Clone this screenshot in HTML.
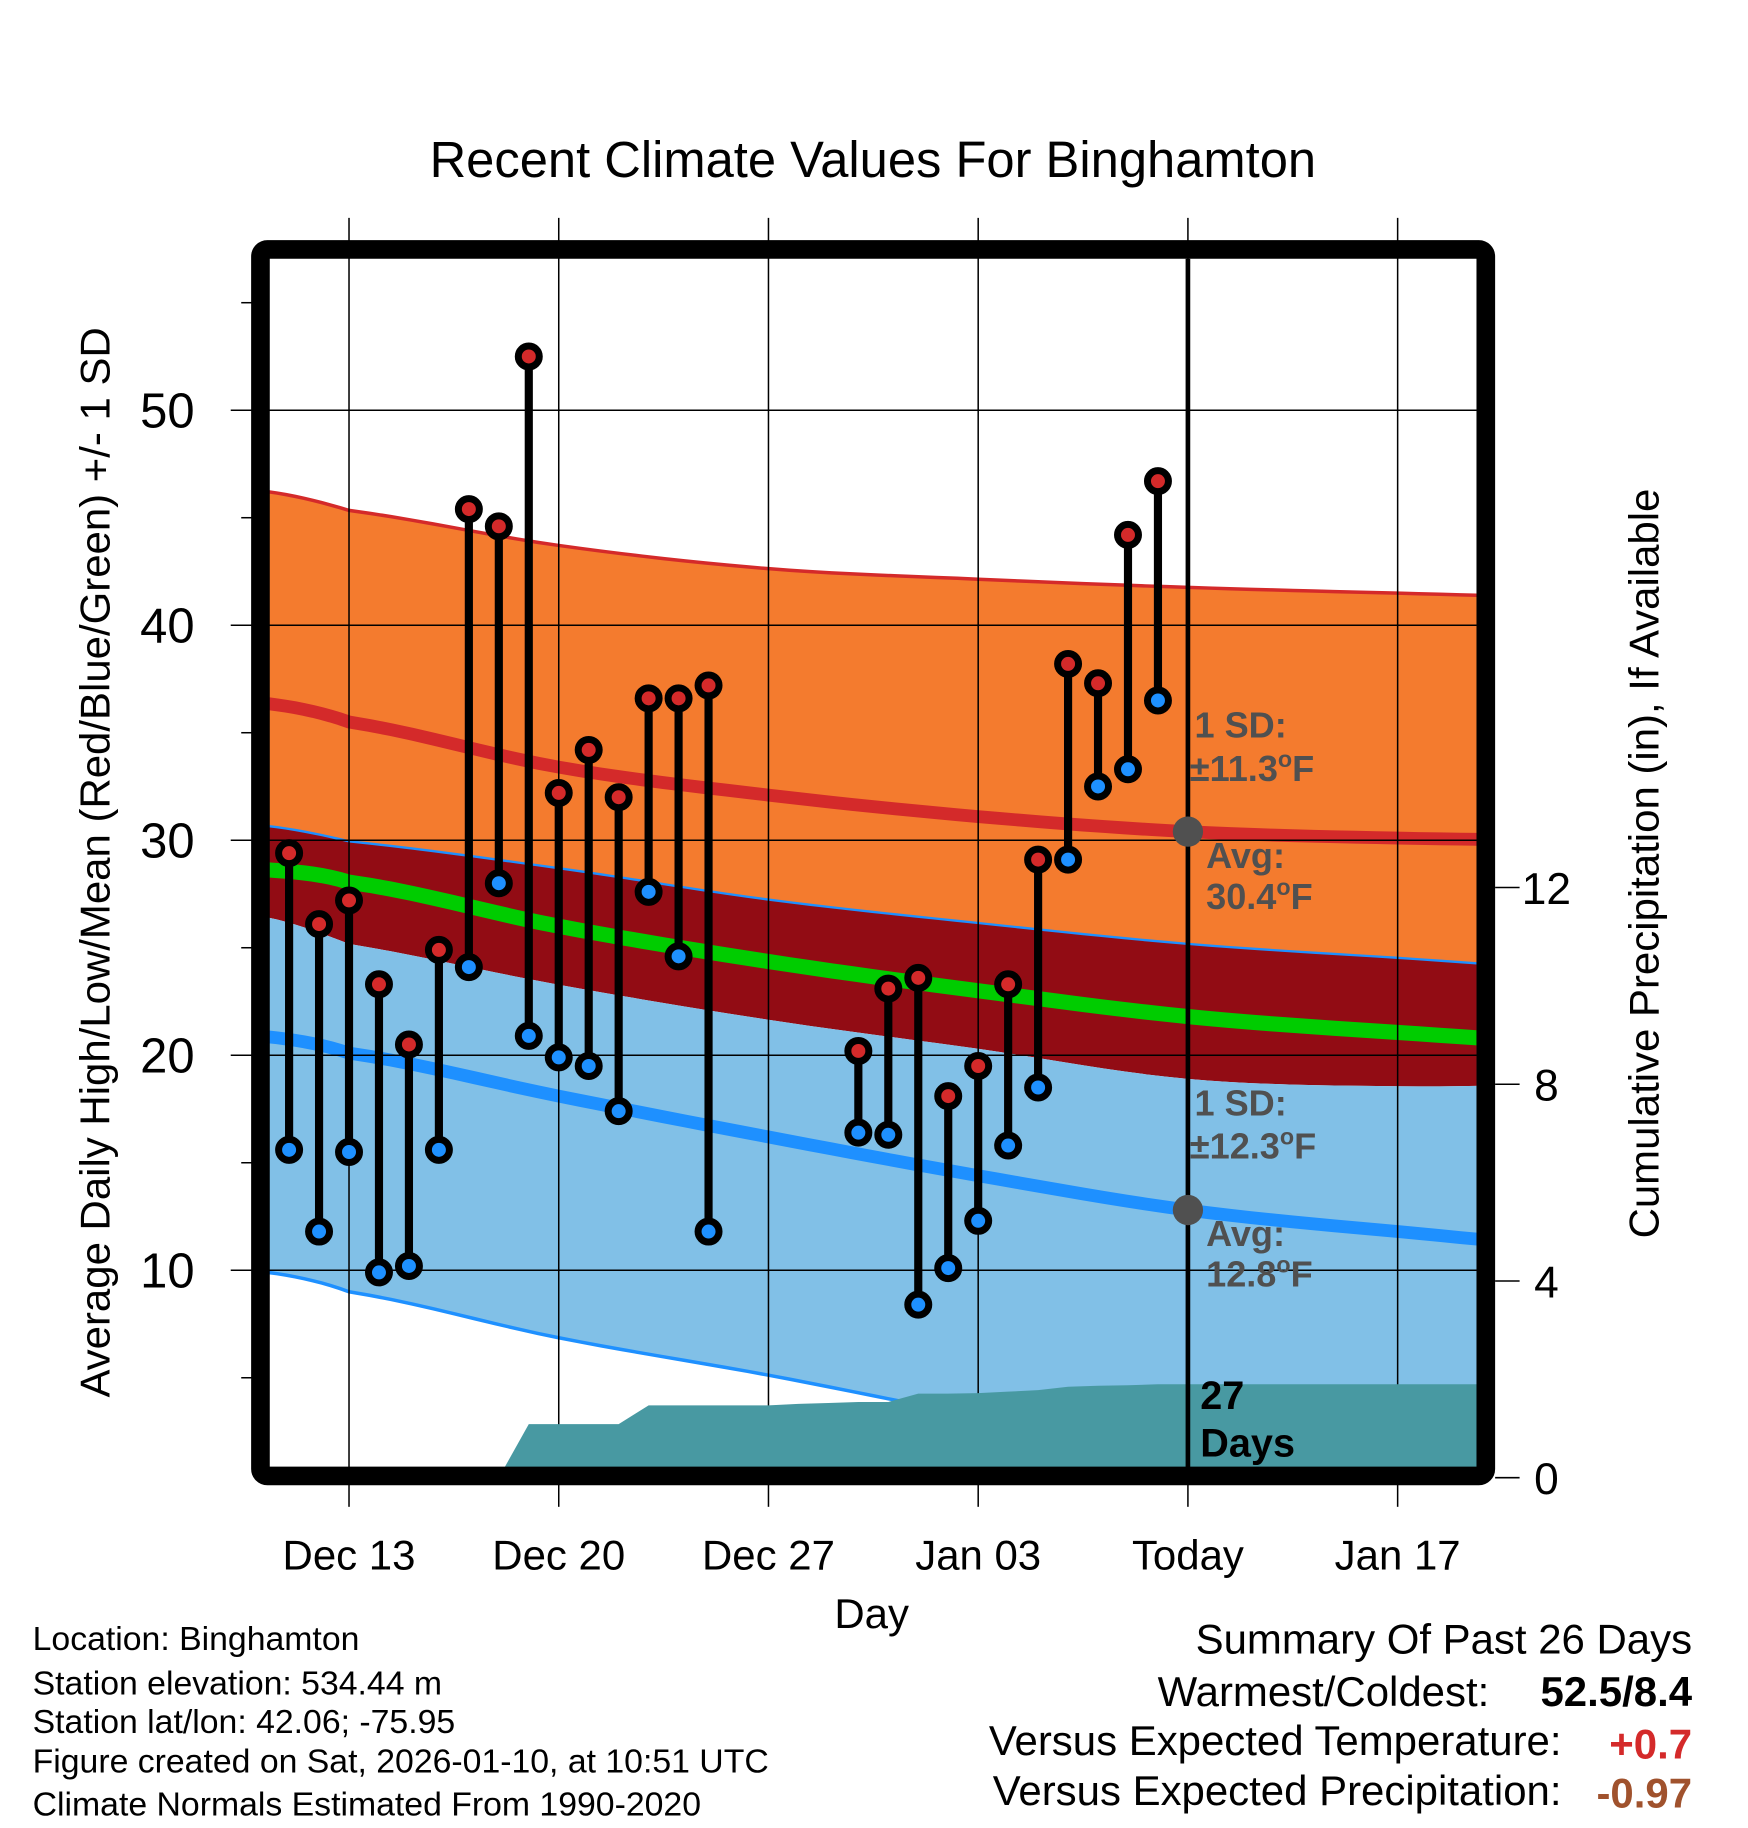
<!DOCTYPE html>
<html><head><meta charset="utf-8"><style>
html,body{margin:0;padding:0;background:#fff}
svg{display:block}
text{font-family:"Liberation Sans",sans-serif}
</style></head><body>
<svg id="chart" width="1748" height="1828" viewBox="0 0 1500 1568.6" preserveAspectRatio="none" xmlns="http://www.w3.org/2000/svg">
<defs><clipPath id="plotclip"><rect x="231" y="222" width="1036" height="1037"/></clipPath></defs>
<g id="bands" clip-path="url(#plotclip)"></g>
<g id="grid"></g>
<g id="precip" clip-path="url(#plotclip)"></g>
<g id="obs"></g>
<g id="annot" font-size="31" font-weight="bold" fill="#505050">
  <text x="1025" y="633">1 SD:</text>
  <text x="1021" y="670">±11.3<tspan font-size="20" dy="-12">o</tspan><tspan dy="12">F</tspan></text>
  <text x="1035" y="745">Avg:</text>
  <text x="1035" y="780">30.4<tspan font-size="20" dy="-12">o</tspan><tspan dy="12">F</tspan></text>
  <text x="1025" y="957">1 SD:</text>
  <text x="1021" y="994">±12.3<tspan font-size="20" dy="-12">o</tspan><tspan dy="12">F</tspan></text>
  <text x="1035" y="1069">Avg:</text>
  <text x="1035" y="1104">12.8<tspan font-size="20" dy="-12">o</tspan><tspan dy="12">F</tspan></text>
  <text x="1030" y="1209" font-size="34" fill="#000">27</text>
  <text x="1030" y="1250" font-size="34" fill="#000">Days</text>
</g>
<rect x="223.5" y="214" width="1051.5" height="1052.5" rx="6" fill="none" stroke="#000" stroke-width="16"/>
<g id="axes"></g>
<text x="749" y="152" font-size="43.5" text-anchor="middle">Recent Climate Values For Binghamton</text>
<text x="748" y="1397" font-size="36" text-anchor="middle">Day</text>
<text transform="translate(94,740) rotate(-90)" font-size="36" text-anchor="middle">Average Daily High/Low/Mean (Red/Blue/Green) +/- 1 SD</text>
<text transform="translate(1423,741) rotate(-90)" font-size="36" text-anchor="middle">Cumulative Precipitation (in), If Available</text>
<g font-size="29">
  <text x="28" y="1416">Location: Binghamton</text>
  <text x="28" y="1454">Station elevation: 534.44 m</text>
  <text x="28" y="1487">Station lat/lon: 42.06; -75.95</text>
  <text x="28" y="1521">Figure created on Sat, 2026-01-10, at 10:51 UTC</text>
  <text x="28" y="1558">Climate Normals Estimated From 1990-2020</text>
</g>
<g font-size="36">
  <text x="1452" y="1419" text-anchor="end">Summary Of Past 26 Days</text>
  <text x="1278" y="1464" text-anchor="end">Warmest/Coldest:</text>
  <text x="1452" y="1464" text-anchor="end" font-weight="bold">52.5/8.4</text>
  <text x="1340" y="1506" text-anchor="end">Versus Expected Temperature:</text>
  <text x="1452" y="1509" text-anchor="end" font-weight="bold" fill="#d42a2a">+0.7</text>
  <text x="1340" y="1549" text-anchor="end">Versus Expected Precipitation:</text>
  <text x="1452" y="1551" text-anchor="end" font-weight="bold" fill="#a0522d">-0.97</text>
</g>
</svg>
<script>
// ---- data ----
const obsDays = [-2,-1,0,1,2,3,4,5,6,7,8,9,10,11,12,17,18,19,20,21,22,23,24,25,26,27];
const highs = [29.4,26.1,27.2,23.3,20.5,24.9,45.4,44.6,52.5,32.2,34.2,32.0,36.6,36.6,37.2,20.2,23.1,23.6,18.1,19.5,23.3,29.1,38.2,37.3,44.2,46.7];
const lows  = [15.6,11.8,15.5,9.9,10.2,15.6,24.1,28.0,20.9,19.9,19.5,17.4,27.6,24.6,11.8,16.4,16.3,8.4,10.1,12.3,15.8,18.5,29.1,32.5,33.3,36.5];
const normDays = [-3,0,7,14,21,28,35,42];
const highPlusSD = [46.26,45.34,43.71,42.63,42.14,41.76,41.49,41.27];
const highAvg    = [36.4,35.5,33.4,32.1,31.1,30.4,30.1,30.0];
const highMinusSD= [30.7,29.95,28.7,27.24,26.15,25.18,24.53,23.93];
const meanAvg    = [28.65,28.05,26.0,24.36,23.0,21.8,21.06,20.5];
const lowPlusSD  = [26.48,25.18,23.28,21.65,20.3,18.9,18.56,18.67];
const lowAvg     = [20.9,20.1,18.1,16.2,14.4,12.8,11.8,11.0];
const lowMinusSD = [9.95,9.0,6.86,5.12,3.22,1.6,0.25,-0.8];
const precipDays = [-3,-2,-1,0,1,2,3,4,5,6,7,8,9,10,11,12,13,14,15,16,17,18,19,20,21,22,23,24,25,26,27,28,42];
const precipCum  = [0,0,0,0,0,0,0,0,0,1.09,1.09,1.09,1.09,1.47,1.47,1.47,1.47,1.47,1.50,1.52,1.54,1.54,1.71,1.71,1.72,1.75,1.78,1.85,1.87,1.88,1.90,1.90,1.90];
const xTickDays = [0,7,14,21,28,35];
const xTickLabels = ["Dec 13","Dec 20","Dec 27","Jan 03","Today","Jan 17"];
const yTicks = [10,20,30,40,50];
const pTicks = [0,4,8,12];
const todayDay = 28;

// ---- scales ----
const X = d => 299.5 + d*25.71;
const Y = v => 352 + (50 - v)*18.45;
const P = p => 1268 - p*42.2;
const NS = "http://www.w3.org/2000/svg";
function mk(tag, parent, attrs){const e=document.createElementNS(NS,tag);for(const k in attrs)e.setAttribute(k,attrs[k]);parent.appendChild(e);return e;}
// Catmull-Rom smoothing into dense point list
function smooth(vs){
  const pts=[];
  for(let i=0;i<normDays.length-1;i++){
    const p0=vs[Math.max(i-1,0)],p1=vs[i],p2=vs[i+1],p3=vs[Math.min(i+2,vs.length-1)];
    const d1=normDays[i],d2=normDays[i+1];
    for(let k=0;k<10;k++){
      const t=k/10,t2=t*t,t3=t2*t;
      const v=0.5*((2*p1)+(-p0+p2)*t+(2*p0-5*p1+4*p2-p3)*t2+(-p0+3*p1-3*p2+p3)*t3);
      pts.push([X(d1+(d2-d1)*t),Y(v)]);
    }
  }
  pts.push([X(normDays[normDays.length-1]),Y(vs[vs.length-1])]);
  return pts;
}
const line = vs => smooth(vs).map(p=>p[0]+","+p[1]).join(" ");
function band(upper, lower){
  const a = smooth(upper).map(p=>p[0]+","+p[1]);
  const b = smooth(lower).map(p=>p[0]+","+p[1]).reverse();
  return a.concat(b).join(" ");
}

const bands = document.getElementById('bands');
let e;
e = mk('polygon', bands, {points: band(highPlusSD, highMinusSD), fill:'#f47b2e'});
 
e = mk('polygon', bands, {points: band(highMinusSD, lowPlusSD), fill:'#920c14'});
 
e = mk('polygon', bands, {points: band(lowPlusSD, lowMinusSD), fill:'#81c0e7'});
 
e = mk('polyline', bands, {points: line(highPlusSD), fill:'none', stroke:'#d42a2a', 'stroke-width':3});
 
e = mk('polyline', bands, {points: line(highMinusSD), fill:'none', stroke:'#1e90ff', 'stroke-width':2});
 
e = mk('polyline', bands, {points: line(lowMinusSD), fill:'none', stroke:'#1e90ff', 'stroke-width':3});
 
e = mk('polyline', bands, {points: line(highAvg), fill:'none', stroke:'#d42a2a', 'stroke-width':11});
 
e = mk('polyline', bands, {points: line(meanAvg), fill:'none', stroke:'#00cc00', 'stroke-width':13});
 
e = mk('polyline', bands, {points: line(lowAvg), fill:'none', stroke:'#1e90ff', 'stroke-width':11});
 

// grid
const grid = document.getElementById('grid');
xTickDays.forEach(d=>{
  const g = mk('line', grid, {x1:X(d), x2:X(d), y1:187, y2:1259, stroke:'#000', 'stroke-width':1.3});
   
});
yTicks.forEach(v=>{
  const g = mk('line', grid, {x1:231, x2:1267, y1:Y(v), y2:Y(v), stroke:'#000', 'stroke-width':1.3});
   
});

// precip
const pr = document.getElementById('precip');
const ppts = precipDays.map((d,i)=>X(d)+","+P(precipCum[i]));
ppts.push(X(precipDays[precipDays.length-1])+","+P(-1), X(precipDays[0])+","+P(-1));
e = mk('polygon', pr, {points: ppts.join(" "), fill:'#4899a2'});
 

// today line
const obs = document.getElementById('obs');
e = mk('line', obs, {x1:X(todayDay), x2:X(todayDay), y1:222, y2:1259, stroke:'#000', 'stroke-width':4});
 

// observations
obsDays.forEach((d,i)=>{
  const x = X(d);
  const s = mk('line', obs, {x1:x, x2:x, y1:Y(highs[i]), y2:Y(lows[i]), stroke:'#000', 'stroke-width':7});
   
  const h = mk('circle', obs, {cx:x, cy:Y(highs[i]), r:9, fill:'#d42a2a', stroke:'#000', 'stroke-width':6});
   
  const l = mk('circle', obs, {cx:x, cy:Y(lows[i]), r:9, fill:'#1e90ff', stroke:'#000', 'stroke-width':6});
   
});
e = mk('circle', obs, {cx:X(todayDay), cy:Y(highAvg[5]), r:13, fill:'#505050'});
 
e = mk('circle', obs, {cx:X(todayDay), cy:Y(lowAvg[5]), r:13, fill:'#505050'});
 

// axes
const ax = document.getElementById('axes');
xTickDays.forEach((d,i)=>{
  const t = mk('line', ax, {x1:X(d), x2:X(d), y1:1274, y2:1293, stroke:'#000', 'stroke-width':1.3});
   
  const lb = mk('text', ax, {x:X(d), y:1347, 'font-size':36, 'text-anchor':'middle'});
  lb.textContent = xTickLabels[i];
   
});
for(let v=5; v<=55; v+=5){
  const major = v%10===0;
  const t = mk('line', ax, {x1: major?198:207, x2:216, y1:Y(v), y2:Y(v), stroke:'#000', 'stroke-width':1.3});
   
}
yTicks.forEach(v=>{
  const lb = mk('text', ax, {x:167, y:Y(v)+15, 'font-size':42, 'text-anchor':'end'});
  lb.textContent = v;
   
});
pTicks.forEach(p=>{
  const t = mk('line', ax, {x1:1283, x2:1304, y1:P(p), y2:P(p), stroke:'#000', 'stroke-width':1.3});
   
  const lb = mk('text', ax, {x:1327, y:P(p)+14, 'font-size':38, 'text-anchor':'middle'});
  lb.textContent = p;
   
});
</script>
</body></html>
